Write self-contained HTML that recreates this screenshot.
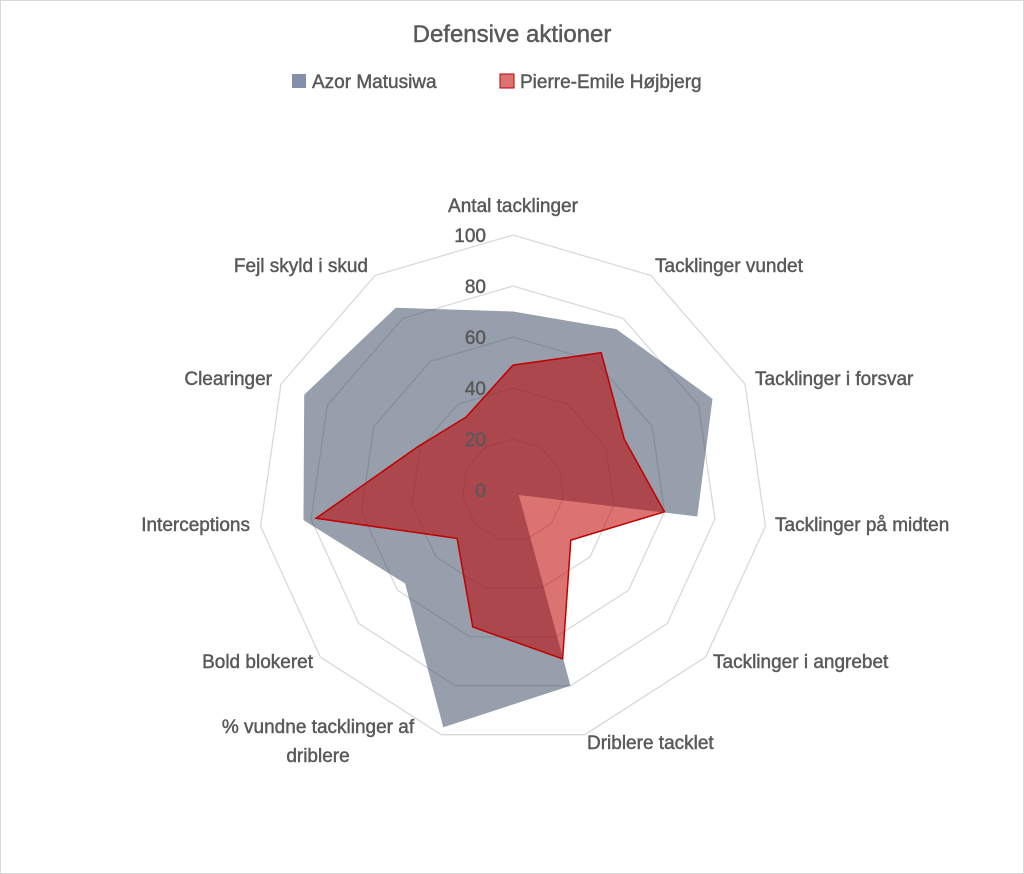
<!DOCTYPE html>
<html><head><meta charset="utf-8"><style>
body{margin:0;background:#fff}
svg{display:block;font-family:"Segoe UI","Liberation Sans",sans-serif}
.t{stroke:#595959;stroke-width:0.45}
</style></head><body>
<svg id="s" width="1024" height="874" viewBox="0 0 1024 874" xmlns="http://www.w3.org/2000/svg">
<rect x="0.5" y="0.5" width="1023" height="873" fill="#fff" stroke="#d9d9d9"/>
<text class="t" x="512" y="42" text-anchor="middle" font-size="24" fill="#595959">Defensive aktioner</text>
<rect x="292" y="74" width="14" height="14" fill="#8490aa"/>
<text class="t" x="312" y="88" font-size="19" fill="#595959">Azor Matusiwa</text>
<rect x="500" y="74" width="14" height="14" fill="#dc7373" stroke="#c00000"/>
<text class="t" x="520" y="88" font-size="19" fill="#595959">Pierre-Emile Højbjerg</text>
<g id="g"></g>
<g font-size="19" fill="#595959" class="t">
<text x="513" y="212" text-anchor="middle">Antal tacklinger</text>
<text x="655" y="272">Tacklinger vundet</text>
<text x="755" y="385">Tacklinger i forsvar</text>
<text x="775" y="531">Tacklinger på midten</text>
<text x="713" y="668">Tacklinger i angrebet</text>
<text x="587" y="749">Driblere tacklet</text>
<text x="318" y="733" text-anchor="middle">% vundne tacklinger af</text>
<text x="318" y="762" text-anchor="middle">driblere</text>
<text x="313" y="668" text-anchor="end">Bold blokeret</text>
<text x="250" y="531" text-anchor="end">Interceptions</text>
<text x="272" y="385" text-anchor="end">Clearinger</text>
<text x="368" y="272" text-anchor="end">Fejl skyld i skud</text>
</g>
</svg>
<script>
var cx=513,cy=490,R=255,n=11,g=document.getElementById('g'),h='';
function pt(i,v){var a=i*2*Math.PI/n,r=R*v/100;return (cx+r*Math.sin(a)).toFixed(1)+','+(cy-r*Math.cos(a)).toFixed(1);}
function poly(vals){return vals.map(function(v,i){return pt(i,v)}).join(' ');}
for(var k=1;k<=5;k++){var a=[];for(var i=0;i<n;i++)a.push(k*20);h+='<polygon points="'+poly(a)+'" fill="none" stroke="#d9d9d9" stroke-width="1.3"/>';}
h+='<polygon points="'+poly([70,75,86,73,3,80,97,56,83,90,85])+'" fill="#44546a" fill-opacity="0.56"/>';
h+='<polygon points="'+poly([49,64,48,60,30,69,56,29,78,41,34])+'" fill="#c00000" fill-opacity="0.55" stroke="#c00000" stroke-width="1.5"/>';
for(var k=0;k<=5;k++){h+='<text class="t" x="486" y="'+(cy-k*51+7)+'" text-anchor="end" font-size="19" fill="#595959">'+(k*20)+'</text>';}
g.innerHTML=h;
</script>
</body></html>
